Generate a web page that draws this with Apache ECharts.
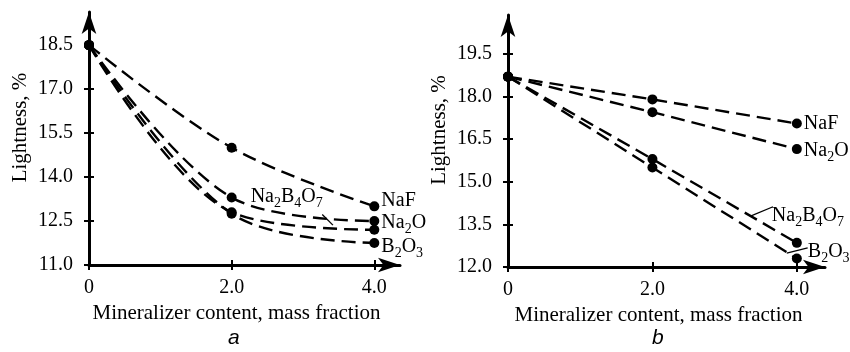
<!DOCTYPE html>
<html>
<head>
<meta charset="utf-8">
<script src="https://cdn.jsdelivr.net/npm/echarts@6/dist/echarts.min.js"></script>
<style>
  html, body { margin: 0; padding: 0; background: #fff; }
  #chart { width: 850px; height: 352px; }
</style>
</head>
<body>
<div id="chart"></div>
<script>
// data
var xValues = [0, 2.0, 4.0];
var naF_a = [18.5, 15.0, 13.0];
var na2O_a = [18.5, 13.3, 12.5];
var na2B4O7_a = [18.5, 12.8, 12.2];
var b2O3_a = [18.5, 12.75, 11.75];
var naF_b = [18.7, 17.9, 17.05];
var na2O_b = [18.7, 17.45, 16.15];
var na2B4O7_b = [18.7, 15.8, 12.85];
var b2O3_b = [18.7, 15.5, 12.3];
var yTicksA = [11.0, 12.5, 14.0, 15.5, 17.0, 18.5];
var yTicksB = [12.0, 13.5, 15.0, 16.5, 18.0, 19.5];
var xTicks = [0, 2.0, 4.0];

var serif = 'Liberation Serif';
var richText = {
  n: { fontFamily: serif, fontSize: 20, color: '#000' },
  s: { fontFamily: serif, fontSize: 14, color: '#000', padding: [13, 0, 0, 0] }
};
var names = {
  NaF: '{n|NaF}',
  Na2O: '{n|Na}{s|2}{n|O}',
  Na2B4O7: '{n|Na}{s|2}{n|B}{s|4}{n|O}{s|7}',
  B2O3: '{n|B}{s|2}{n|O}{s|3}'
};

function makeData(vals, labelIdx, labelOpt) {
  return vals.map(function(v, i) {
    var d = { value: [xValues[i], v] };
    if (i === labelIdx) d.label = labelOpt;
    return d;
  });
}

function lbl(key, offset) {
  return {
    show: true, position: 'right', distance: 2, offset: offset,
    formatter: names[key], rich: richText
  };
}

// short solid leader from a label to its curve
function leader(from, to) {
  return {
    silent: true, symbol: 'none', label: { show: false },
    lineStyle: { color: '#000', width: 1.3, type: 'solid' },
    data: [[{ coord: from }, { coord: to }]]
  };
}

function makeSeries(name, vals, idx, smooth, labelIdx, labelOpt, ml) {
  var s = {
    name: name, type: 'line', xAxisIndex: idx, yAxisIndex: idx,
    smooth: smooth, symbol: 'circle', symbolSize: 10,
    itemStyle: { color: '#000' },
    lineStyle: { color: '#000', width: 2.4, type: [14, 7] },
    data: makeData(vals, labelIdx, labelOpt),
    z: 3
  };
  if (ml) s.markLine = ml;
  return s;
}

var tickLine = { color: '#000', width: 2 };
var axisLineStyle = { color: '#000', width: 3 };

function xAxisOpt(idx, inner) {
  if (inner) {
    // second copy only draws the inner half of the crossing ticks
    return {
      type: 'value', gridIndex: idx, position: 'bottom', offset: 0,
      min: 0, max: idx === 0 ? 4.36 : 4.39,
      axisLine: { show: false },
      axisTick: { show: true, inside: true, length: 5, lineStyle: tickLine, customValues: xTicks },
      axisLabel: { show: false }, splitLine: { show: false }
    };
  }
  return {
    type: 'value', gridIndex: idx, position: 'bottom', min: 0, max: idx === 0 ? 4.36 : 4.39,
    name: 'Mineralizer content, mass fraction', nameLocation: 'middle', nameGap: 31,
    nameTextStyle: { fontFamily: serif, fontSize: 21, color: '#000', padding: [0, 16, 0, 0] },
    axisLine: { show: true, lineStyle: axisLineStyle, symbol: ['none', 'arrow'], symbolSize: [11, 22] },
    axisTick: { show: true, length: 5, lineStyle: tickLine, customValues: xTicks },
    axisLabel: { fontFamily: serif, fontSize: 20, color: '#000', margin: 13, customValues: xTicks,
      formatter: function(v) { return v === 0 ? '0' : v.toFixed(1); } },
    splitLine: { show: false }
  };
}

function yAxisOpt(idx, ticks, min, max, inner) {
  if (inner) {
    return {
      type: 'value', gridIndex: idx, position: 'left', offset: 0, min: min, max: max,
      axisLine: { show: false },
      axisTick: { show: true, inside: true, length: 5, lineStyle: tickLine, customValues: ticks },
      axisLabel: { show: false }, splitLine: { show: false }
    };
  }
  return {
    type: 'value', gridIndex: idx, position: 'left', min: min, max: max,
    name: 'Lightness, %', nameLocation: 'middle', nameGap: 58,
    nameTextStyle: { fontFamily: serif, fontSize: 21, color: '#000', padding: [0, 0, 0, 22] },
    axisLine: { show: true, lineStyle: axisLineStyle, symbol: ['none', 'arrow'], symbolSize: [11, 22] },
    axisTick: { show: true, length: 5, lineStyle: tickLine, customValues: ticks },
    axisLabel: { fontFamily: serif, fontSize: 20, color: '#000', margin: 16, customValues: ticks,
      formatter: function(v) { return v.toFixed(1); } },
    splitLine: { show: false }
  };
}

var myChart = echarts.init(document.getElementById('chart'));
var option = {
  animation: false,
  backgroundColor: '#fff',
  grid: [
    { left: 89, top: 12, width: 311, height: 253 },
    { left: 508, top: 15, width: 317, height: 252 }
  ],
  xAxis: [xAxisOpt(0), xAxisOpt(1), xAxisOpt(0, true), xAxisOpt(1, true)],
  yAxis: [
    yAxisOpt(0, yTicksA, 11.0, 19.63), yAxisOpt(1, yTicksB, 12.0, 20.87),
    yAxisOpt(0, yTicksA, 11.0, 19.63, true), yAxisOpt(1, yTicksB, 12.0, 20.87, true)
  ],
  graphic: [
    { type: 'text', left: 228, top: 328, style: { text: 'a', font: 'italic 21px "Liberation Sans"', fill: '#000' } },
    { type: 'text', left: 652, top: 328, style: { text: 'b', font: 'italic 21px "Liberation Sans"', fill: '#000' } }
  ],
  series: [
    makeSeries('NaF', naF_a, 0, 0.35, 2, lbl('NaF', [0, -6])),
    makeSeries('Na2O', na2O_a, 0, 0.35, 2, lbl('Na2O', [0, 2])),
    makeSeries('Na2B4O7', na2B4O7_a, 0, 0.35, 1, lbl('Na2B4O7', [12, -15]),
      leader([3.27, 12.72], [3.42, 12.36])),
    makeSeries('B2O3', b2O3_a, 0, 0.35, 2, lbl('B2O3', [0, 4])),
    makeSeries('NaF', naF_b, 1, false, 2, lbl('NaF', [0, 0])),
    makeSeries('Na2O', na2O_b, 1, false, 2, lbl('Na2O', [0, 2])),
    makeSeries('Na2B4O7', na2B4O7_b, 1, false, 2, lbl('Na2B4O7', [-32, -27]),
      leader([3.35, 13.78], [3.67, 14.12])),
    makeSeries('B2O3', b2O3_b, 1, false, 2, lbl('B2O3', [4, -7]),
      leader([3.86, 12.49], [4.15, 12.67]))
  ]
};
myChart.setOption(option);
</script>
</body>
</html>
